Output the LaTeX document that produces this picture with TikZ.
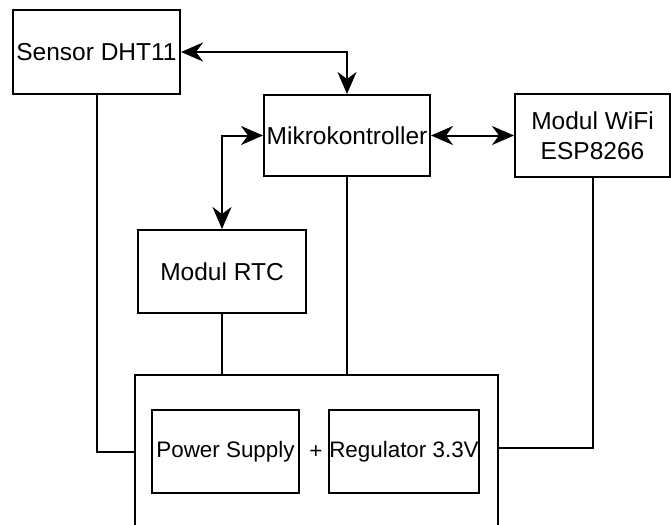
\documentclass[tikz,border=0pt]{standalone}
\usepackage{fontspec}
\setmainfont{Liberation Sans}
\usetikzlibrary{arrows.meta}
\begin{document}
\begin{tikzpicture}[x=1pt,y=-1pt,
  box/.style={draw,line width=2pt,rectangle,inner sep=0pt,align=center,
    font=\fontsize{24.5}{30}\selectfont},
  lowbox/.style={box,font=\fontsize{22.4}{27}\selectfont},
  link/.style={line width=2pt},
  dual/.style={line width=2pt,{Stealth[length=22pt,width=19pt,inset=7pt]}-{Stealth[length=22pt,width=19pt,inset=7pt]}}]
\clip (0,0) rectangle (671,524);
\fill[white] (0,0) rectangle (671,524);
\node[box,minimum width=167pt,minimum height=84pt] (sensor) at (96.5,52) {Sensor DHT11};
\node[box,minimum width=166pt,minimum height=81pt] (mikro) at (347,135.5) {Mikrokontroller};
\node[box,minimum width=155pt,minimum height=83pt] (wifi) at (592.5,135.5) {Modul WiFi\\ESP8266};
\node[box,minimum width=168pt,minimum height=83pt] (rtc) at (222,271.5) {Modul RTC};
\node[box,minimum width=363pt,minimum height=165pt] (big) at (316.5,457.5) {};
\node[lowbox,minimum width=147pt,minimum height=83pt] (ps) at (225.5,451.5) {Power Supply};
\node[lowbox,minimum width=148pt,minimum height=83pt] (reg) at (404,451.5) {Regulator 3.3V};
\node[font=\fontsize{22.4}{27}\selectfont,inner sep=0pt] (plus) at (316,452) {+};
\draw[dual] (sensor.east) -| (mikro.north);
\draw[dual] (mikro.east) -- (wifi.west);
\draw[dual] (mikro.west) -| (rtc.north);
\draw[link] (sensor.south) |- (big.west |- ps.center);
\draw[link] (rtc.south) -- (rtc.south |- big.north);
\draw[link] (mikro.south) -- (mikro.south |- big.north);
\draw[link] (wifi.south) |- (big.east |- 0,448);
\end{tikzpicture}
\end{document}
